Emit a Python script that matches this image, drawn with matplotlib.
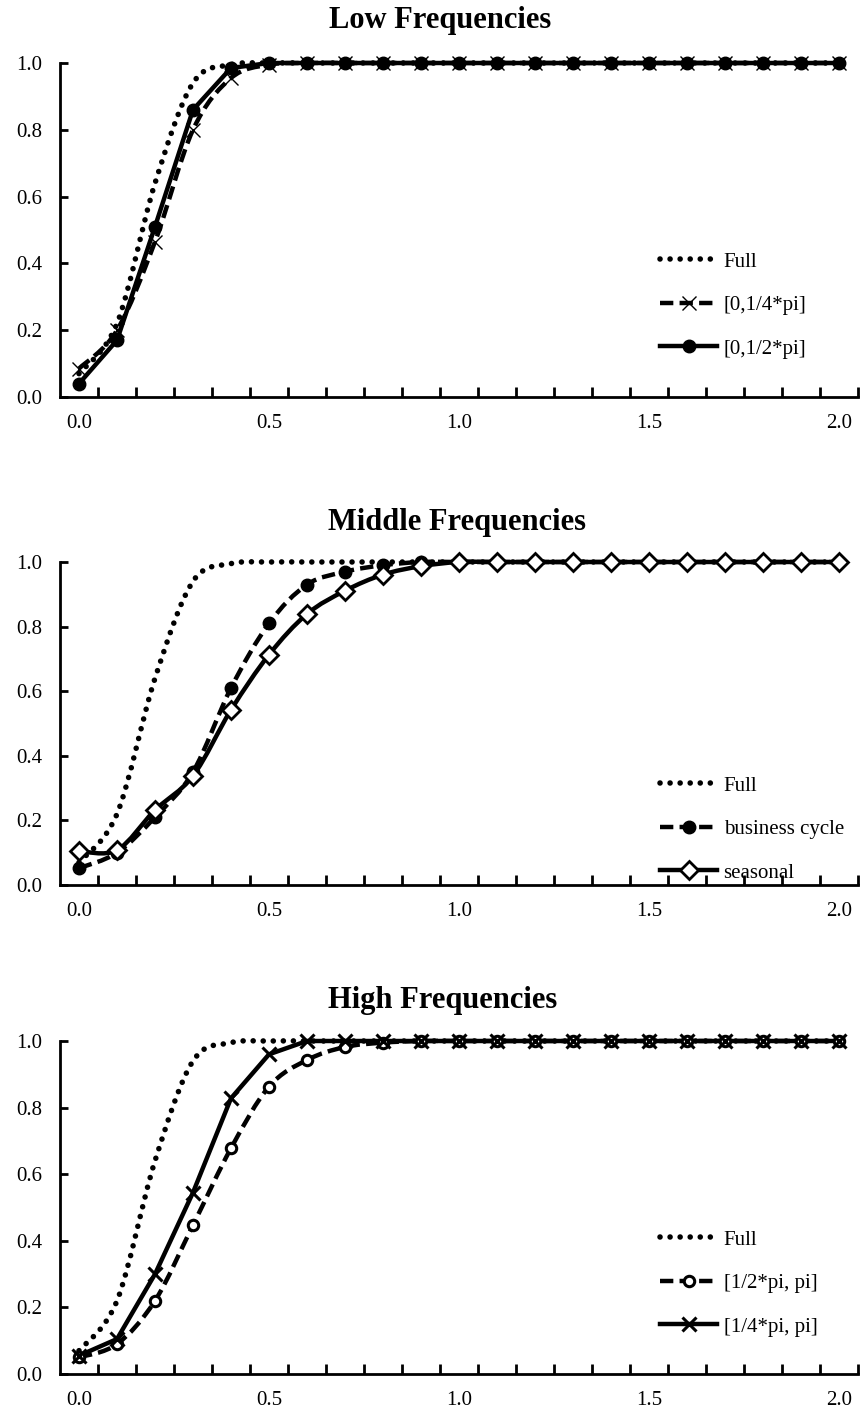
import matplotlib
matplotlib.use("Agg")
import matplotlib.pyplot as plt
import numpy as np
from matplotlib.path import Path
from matplotlib.patches import PathPatch
from matplotlib.lines import Line2D

plt.rcParams['font.family'] = ['Liberation Serif', 'DejaVu Serif']

# frequency grid (categories)
freq = [round(0.1 * i, 1) for i in range(21)]

full = [0.07, 0.22, 0.64, 0.94, 0.995, 1.0, 1.0, 1.0, 1.0, 1.0, 1.0,
        1.0, 1.0, 1.0, 1.0, 1.0, 1.0, 1.0, 1.0, 1.0, 1.0]

# Low frequencies
low_quarter = [0.085, 0.20, 0.465, 0.80, 0.955, 0.995, 1.0, 1.0, 1.0, 1.0, 1.0,
               1.0, 1.0, 1.0, 1.0, 1.0, 1.0, 1.0, 1.0, 1.0, 1.0]
low_half = [0.04, 0.17, 0.51, 0.86, 0.985, 1.0, 1.0, 1.0, 1.0, 1.0, 1.0,
            1.0, 1.0, 1.0, 1.0, 1.0, 1.0, 1.0, 1.0, 1.0, 1.0]

# Middle frequencies
business = [0.052, 0.10, 0.21, 0.35, 0.61, 0.81, 0.93, 0.97, 0.99, 1.0, 1.0,
            1.0, 1.0, 1.0, 1.0, 1.0, 1.0, 1.0, 1.0, 1.0, 1.0]
seasonal = [0.105, 0.108, 0.232, 0.338, 0.542, 0.713, 0.839, 0.911, 0.961, 0.987, 1.0,
            1.0, 1.0, 1.0, 1.0, 1.0, 1.0, 1.0, 1.0, 1.0, 1.0]

# High frequencies
high_half = [0.05, 0.09, 0.22, 0.447, 0.678, 0.863, 0.943, 0.982, 0.995, 1.0, 1.0,
             1.0, 1.0, 1.0, 1.0, 1.0, 1.0, 1.0, 1.0, 1.0, 1.0]
high_quarter = [0.055, 0.105, 0.30, 0.545, 0.828, 0.96, 1.0, 1.0, 1.0, 1.0, 1.0,
                1.0, 1.0, 1.0, 1.0, 1.0, 1.0, 1.0, 1.0, 1.0, 1.0]

titles = ['Low Frequencies', 'Middle Frequencies', 'High Frequencies']
xtick_vals = [0.0, 0.5, 1.0, 1.5, 2.0]
ytick_vals = [0.0, 0.2, 0.4, 0.6, 0.8, 1.0]


def smooth_path(x, y):
    # Bezier curve through the points (spreadsheet-style smoothed line)
    pts = np.column_stack([x, y])
    n = len(pts)
    verts = [pts[0]]
    codes = [Path.MOVETO]
    for i in range(n - 1):
        p0 = pts[i - 1] if i > 0 else pts[i]
        p1 = pts[i]
        p2 = pts[i + 1]
        p3 = pts[i + 2] if i + 2 < n else pts[i + 1]
        c1 = p1 + (p2 - p0) / 6.0
        c2 = p2 - (p3 - p1) / 6.0
        verts += [c1, c2, p2]
        codes += [Path.CURVE4] * 3
    return Path(verts, codes)


DOT = (0, (0.01, 1.8))
DASH = (0, (3.0, 1.4))

series_sets = [
    [('Full', full, DOT, None, True),
     ('[0,1/4*pi]', low_quarter, DASH, 'x', True),
     ('[0,1/2*pi]', low_half, '-', 'o', False)],
    [('Full', full, DOT, None, True),
     ('business cycle', business, DASH, 'o', True),
     ('seasonal', seasonal, '-', 'D', True)],
    [('Full', full, DOT, None, True),
     ('[1/2*pi, pi]', high_half, DASH, 'o_open', True),
     ('[1/4*pi, pi]', high_quarter, '-', 'X', False)],
]

fig = plt.figure(figsize=(8.65, 14.14), dpi=100)
H = 1414.0
W = 865.0
panels = [(63, 397), (562, 885), (1041, 1374)]
title_pos = [(440, 28), (457, 530), (443, 1008)]
legend_top = [252, 776, 1230]

for k, (top, bottom) in enumerate(panels):
    ax = fig.add_axes([60 / W, 1 - bottom / H, 798 / W, (bottom - top) / H])
    handles = []
    for label, vals, ls, mk, smooth in series_sets[k]:
        lw = 4.0 if ls == DOT else 3.2
        if smooth:
            patch = PathPatch(smooth_path(freq, vals), fill=False, edgecolor='black',
                              linewidth=lw, linestyle=ls, capstyle='round' if ls == DOT else 'butt',
                              clip_on=False)
            ax.add_patch(patch)
        else:
            ax.plot(freq, vals, color='black', linewidth=lw, linestyle=ls, clip_on=False)

        mkw = {}
        if mk == 'x':
            mkw = dict(marker='x', markersize=10, markeredgewidth=1.0, markeredgecolor='black')
        elif mk == 'o':
            mkw = dict(marker='o', markersize=9, markerfacecolor='black',
                       markeredgecolor='black', markeredgewidth=1.0)
        elif mk == 'D':
            mkw = dict(marker='D', markersize=9, markerfacecolor='white',
                       markeredgecolor='black', markeredgewidth=2.0)
        elif mk == 'o_open':
            mkw = dict(marker='o', markersize=7.5, markerfacecolor='white',
                       markeredgecolor='black', markeredgewidth=2.2)
        elif mk == 'X':
            mkw = dict(marker='x', markersize=10, markeredgewidth=2.2, markeredgecolor='black')
        if mkw:
            ax.plot(freq, vals, linestyle='none', clip_on=False, zorder=3, **mkw)

        h = Line2D([], [], color='black', linewidth=lw, linestyle=ls,
                   dash_capstyle='round' if ls == DOT else 'butt', **mkw)
        handles.append(h)

    ax.set_xlim(-0.05, 2.05)
    ax.set_ylim(0, 1)
    for s in ['top', 'right']:
        ax.spines[s].set_visible(False)
    for s in ['left', 'bottom']:
        ax.spines[s].set_linewidth(2.0)
    ax.set_xticks(xtick_vals)
    ax.set_xticklabels(['%.1f' % v for v in xtick_vals])
    ax.set_xticks(np.arange(0.05, 2.06, 0.1), minor=True)
    ax.tick_params(axis='x', which='major', length=0, pad=12, labelsize=15)
    ax.tick_params(axis='x', which='minor', direction='in', length=7, width=2)
    ax.set_yticks(ytick_vals)
    ax.set_yticklabels(['%.1f' % v for v in ytick_vals])
    ax.tick_params(axis='y', direction='in', length=6, width=2, pad=13, labelsize=15)

    leg = ax.legend(handles, [s[0] for s in series_sets[k]], loc='upper left',
                    bbox_to_anchor=(660 / W, 1 - legend_top[k] / H),
                    bbox_transform=fig.transFigure, frameon=False, fontsize=15,
                    handlelength=2.75, handletextpad=0.3, labelspacing=1.15,
                    borderpad=0, borderaxespad=0, numpoints=1)

    tx, ty = title_pos[k]
    fig.text(tx / W, 1 - ty / H, titles[k], ha='center', va='baseline',
             fontsize=22, fontweight='bold')

fig.savefig('out.png', dpi=100)
